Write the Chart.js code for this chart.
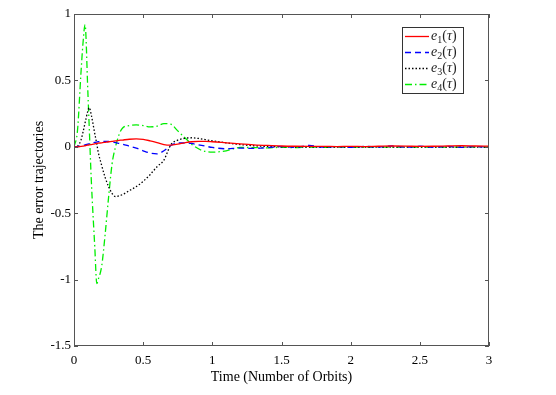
<!DOCTYPE html>
<html>
<head>
<meta charset="utf-8">
<script src="https://cdn.jsdelivr.net/npm/chart.js@4/dist/chart.umd.min.js"></script>
<style>
  body { margin: 0; background: #fff; }
  #chart { display: block; }
</style>
</head>
<body>
<canvas id="chart" width="556" height="395"></canvas>
<script>
// time axis (orbits) shared by all four error signals
const times = [0, 0.025, 0.05, 0.065, 0.08, 0.1, 0.11, 0.125, 0.15, 0.165,
  0.175, 0.2, 0.225, 0.25, 0.275, 0.3, 0.325, 0.35, 0.4, 0.45,
  0.5, 0.55, 0.6, 0.65, 0.7, 0.75, 0.8, 0.85, 0.9, 0.95,
  1.0, 1.1, 1.2, 1.3, 1.4, 1.5, 1.6, 1.7, 1.8, 1.9,
  2.0, 2.1, 2.2, 2.3, 2.4, 2.5, 2.6, 2.7, 2.8, 2.9, 3.0];

const e1 = [0, 0, 0.003, 0.005, 0.008, 0.012, 0.014, 0.017, 0.022, 0.025,
  0.027, 0.03, 0.034, 0.038, 0.041, 0.045, 0.048, 0.051, 0.057, 0.06,
  0.056, 0.045, 0.032, 0.017, 0.013, 0.02, 0.03, 0.038, 0.041, 0.041,
  0.038, 0.03, 0.022, 0.015, 0.01, 0.006, 0.004, 0.003, 0.003, 0.002,
  0.003, 0.002, 0.004, 0.006, 0.005, 0.003, 0.004, 0.006, 0.008, 0.006, 0.005];

const e2 = [0, 0.002, 0.006, 0.01, 0.014, 0.02, 0.023, 0.027, 0.033, 0.036,
  0.038, 0.04, 0.041, 0.04, 0.037, 0.032, 0.026, 0.02, 0.005, -0.01,
  -0.03, -0.047, -0.053, -0.03, 0.01, 0.028, 0.03, 0.025, 0.015, 0.005,
  -0.005, -0.015, -0.01, -0.012, -0.006, 0.002, -0.004, 0.01, -0.003, 0.002,
  -0.004, 0.003, -0.002, 0.006, -0.003, 0.004, -0.002, 0.003, -0.004, 0.002, -0.002];

const e3 = [0, 0.005, 0.05, 0.11, 0.18, 0.27, 0.295, 0.24, 0.1, 0.02,
  -0.04, -0.14, -0.23, -0.3, -0.35, -0.375, -0.37, -0.36, -0.33, -0.3,
  -0.26, -0.21, -0.15, -0.1, 0.015, 0.05, 0.064, 0.068, 0.063, 0.054,
  0.045, 0.03, 0.017, 0.008, 0.003, 0, -0.002, -0.003, -0.002, -0.003,
  -0.002, -0.003, -0.002, -0.002, -0.003, -0.002, -0.002, -0.003, -0.002, -0.002, -0.002];

const e4 = [0, 0.12, 0.55, 0.78, 0.92, 0.42, 0.15, -0.25, -0.75, -1.03,
  -1.0, -0.9, -0.66, -0.38, -0.13, 0, 0.09, 0.14, 0.16, 0.165,
  0.16, 0.15, 0.155, 0.175, 0.17, 0.12, 0.07, 0.02, -0.015, -0.035,
  -0.04, -0.03, -0.005, -0.006, -0.008, -0.004, -0.006, -0.002, -0.004, -0.003,
  -0.002, -0.004, -0.002, -0.003, -0.001, -0.003, -0.002, -0.003, -0.002, -0.001, -0.002];

const xTicks = [0, 0.5, 1, 1.5, 2, 2.5, 3];
const yTicks = [-1.5, -1, -0.5, 0, 0.5, 1];

const seriesNames = ["1", "2", "3", "4"];
const seriesColors = ["#ff0000", "#0000ff", "#000000", "#00ee00"];
const seriesDashes = [[], [6, 4], [1.5, 2], [7, 3, 1.5, 3]];
const seriesValues = [e1, e2, e3, e4];

const serif = "'Liberation Serif', 'Times New Roman', serif";

function toPoints(vals) {
  return vals.map((v, i) => ({ x: times[i], y: v }));
}

// box around the plot with inward ticks, MATLAB style
const frame = {
  id: "frame",
  afterDatasetsDraw(chart) {
    const { ctx, chartArea: a, scales } = chart;
    ctx.save();
    ctx.strokeStyle = "#555";
    ctx.lineWidth = 1;
    ctx.setLineDash([]);
    ctx.strokeRect(a.left + 0.5, a.top + 0.5, a.right - a.left - 1, a.bottom - a.top - 1);
    ctx.beginPath();
    xTicks.forEach((t) => {
      const px = Math.round(scales.x.getPixelForValue(t)) + 0.5;
      ctx.moveTo(px, a.bottom); ctx.lineTo(px, a.bottom - 4);
      ctx.moveTo(px, a.top); ctx.lineTo(px, a.top + 4);
    });
    yTicks.forEach((t) => {
      const py = Math.round(scales.y.getPixelForValue(t)) + 0.5;
      ctx.moveTo(a.left, py); ctx.lineTo(a.left + 4, py);
      ctx.moveTo(a.right, py); ctx.lineTo(a.right - 4, py);
    });
    ctx.stroke();

    // legend box in the upper right corner
    const lx = 402, ly = 27, lw = 61, lh = 66;
    ctx.fillStyle = "#fff";
    ctx.fillRect(lx, ly, lw, lh);
    ctx.strokeStyle = "#333";
    ctx.strokeRect(lx + 0.5, ly + 0.5, lw, lh);
    seriesNames.forEach((n, i) => {
      const y = ly + 9 + i * 16;
      ctx.strokeStyle = seriesColors[i];
      ctx.lineWidth = 1.3;
      ctx.setLineDash(seriesDashes[i]);
      ctx.beginPath();
      ctx.moveTo(lx + 3, y + 0.5);
      ctx.lineTo(lx + 27, y + 0.5);
      ctx.stroke();
      ctx.setLineDash([]);
      ctx.fillStyle = "#222";
      ctx.textBaseline = "middle";
      ctx.textAlign = "left";
      let x = lx + 29;
      ctx.font = "italic 14px " + serif;
      ctx.fillText("e", x, y);
      x += ctx.measureText("e").width;
      ctx.font = "10px " + serif;
      ctx.fillText(n, x, y + 4);
      x += ctx.measureText(n).width;
      ctx.font = "14px " + serif;
      ctx.fillText("(", x, y);
      x += ctx.measureText("(").width;
      ctx.font = "italic 14px " + serif;
      ctx.fillText("τ", x, y);
      x += ctx.measureText("τ").width;
      ctx.font = "14px " + serif;
      ctx.fillText(")", x, y);
    });
    ctx.restore();
  },
};

new Chart(document.getElementById("chart"), {
  type: "line",
  data: {
    datasets: seriesValues.map((vals, i) => ({
      label: "e" + seriesNames[i],
      data: toPoints(vals),
      borderColor: seriesColors[i],
      borderDash: seriesDashes[i],
      borderWidth: 1.3,
      pointRadius: 0,
      fill: false,
      cubicInterpolationMode: "monotone",
    })),
  },
  options: {
    responsive: false,
    animation: false,
    layout: { padding: { top: 14, right: 67, bottom: 0, left: 0 } },
    plugins: { legend: { display: false }, tooltip: { enabled: false } },
    scales: {
      x: {
        type: "linear",
        min: 0,
        max: 3,
        afterFit: (s) => { s.height = 49; },
        afterBuildTicks: (s) => { s.ticks = xTicks.map((v) => ({ value: v })); },
        grid: { display: false, drawTicks: false },
        border: { display: false },
        ticks: { color: "#000", font: { family: serif, size: 13 }, padding: 7, maxRotation: 0,
          callback: (v) => String(v) },
        title: { display: true, text: "Time (Number of Orbits)", color: "#000",
          font: { family: serif, size: 14 }, padding: { top: 0, bottom: 9 } },
      },
      y: {
        min: -1.5,
        max: 1,
        afterFit: (s) => { s.width = 74; },
        afterBuildTicks: (s) => { s.ticks = yTicks.map((v) => ({ value: v })); },
        grid: { display: false, drawTicks: false },
        border: { display: false },
        ticks: { color: "#000", font: { family: serif, size: 13 }, padding: 3,
          callback: (v) => String(v) },
        title: { display: true, text: "The error trajectories", color: "#000",
          font: { family: serif, size: 14 }, padding: { top: 31, bottom: 0 } },
      },
    },
  },
  plugins: [frame],
});
</script>
</body>
</html>
